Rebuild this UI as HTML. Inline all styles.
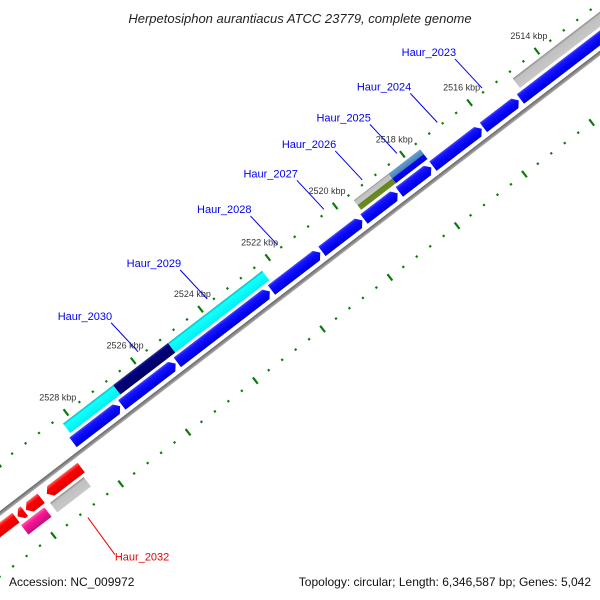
<!DOCTYPE html>
<html><head><meta charset="utf-8"><style>
html,body{margin:0;background:#fff;width:600px;height:600px;overflow:hidden}
svg{display:block;overflow:hidden;font-family:"Liberation Sans","DejaVu Sans",sans-serif}
</style></head><body>
<svg id="chart" width="600" height="600" viewBox="0 0 600 600" xmlns="http://www.w3.org/2000/svg">
<defs>
<linearGradient id="gBlue" x1="0" y1="0" x2="0" y2="1"><stop offset="0" stop-color="#0000c8"/><stop offset="0.25" stop-color="#0000f0"/><stop offset="0.8" stop-color="#1515ff"/><stop offset="1" stop-color="#4a4aff"/></linearGradient>
<linearGradient id="gCyan" x1="0" y1="0" x2="0" y2="1"><stop offset="0" stop-color="#00f0f0"/><stop offset="0.8" stop-color="#10ffff"/><stop offset="1" stop-color="#00b8b8"/></linearGradient>
<linearGradient id="gNavy" x1="0" y1="0" x2="0" y2="1"><stop offset="0" stop-color="#000060"/><stop offset="0.8" stop-color="#000080"/><stop offset="1" stop-color="#303090"/></linearGradient>
<linearGradient id="gGray" x1="0" y1="0" x2="0" y2="1"><stop offset="0" stop-color="#c8c8c8"/><stop offset="0.8" stop-color="#c0c0c0"/><stop offset="1" stop-color="#8a8a8a"/></linearGradient>
<linearGradient id="gRed" x1="0" y1="0" x2="0" y2="1"><stop offset="0" stop-color="#e00000"/><stop offset="0.7" stop-color="#ff0000"/><stop offset="1" stop-color="#ff6060"/></linearGradient>
<linearGradient id="gPink" x1="0" y1="0" x2="0" y2="1"><stop offset="0" stop-color="#c01080"/><stop offset="0.7" stop-color="#ff1493"/><stop offset="1" stop-color="#ff60b0"/></linearGradient>
<linearGradient id="gOlive" x1="0" y1="0" x2="0" y2="1"><stop offset="0" stop-color="#6b8e23"/><stop offset="1" stop-color="#5a7a18"/></linearGradient>
<linearGradient id="gSteel" x1="0" y1="0" x2="0" y2="1"><stop offset="0" stop-color="#4682b4"/><stop offset="1" stop-color="#6aa0d0"/></linearGradient>
<linearGradient id="gBack" x1="0" y1="0" x2="0" y2="1"><stop offset="0" stop-color="#b0b0b0"/><stop offset="0.5" stop-color="#888"/><stop offset="1" stop-color="#666"/></linearGradient>
</defs>
<text x="300" y="23" text-anchor="middle" font-size="13" font-style="italic" fill="#222">Herpetosiphon aurantiacus ATCC 23779, complete genome</text>
<g id="track" transform="translate(537,51) rotate(142.5)"></g>
<g id="labels"></g>
<text x="9" y="586" font-size="12" fill="#111">Accession: NC_009972</text>
<text x="591" y="586" text-anchor="end" font-size="12" fill="#111">Topology: circular; Length: 6,346,587 bp; Genes: 5,042</text>
</svg>
<script>
// data (kbp)
const refKbp = 2514;
const pxPerKbp = 42.4;
const blueStarts = [2505, 2515.05, 2516.15, 2517.65, 2518.65, 2519.7, 2520.95, 2522.45, 2525.25, 2526.9];
const blueEnds   = [2515.0, 2516.1, 2517.6, 2518.6, 2519.65, 2520.9, 2522.4, 2525.2, 2526.85, 2528.3];
const outerStarts = [2505, 2517.6, 2518.54, 2522.3, 2525.1, 2526.73];
const outerEnds   = [2514.85, 2518.54, 2519.57, 2525.1, 2526.73, 2528.22];
const outerColors = ["gGray", "gBlue", "gOlive", "gCyan", "gNavy", "gCyan"];
const redStarts = [2528.51, 2529.7, 2530.2, 2530.45];
const redEnds   = [2529.53, 2530.15, 2530.4, 2531.5];
const row4Starts = [2528.6, 2529.77];
const row4Ends   = [2529.6, 2530.46];
const row4Colors = ["gGray", "gPink"];
const tickKbp = [2500,2502,2504,2506,2508,2510,2512,2514,2516,2518,2520,2522,2524,2526,2528,2530,2532,2534];
const tickLabels = ["2514 kbp","2516 kbp","2518 kbp","2520 kbp","2522 kbp","2524 kbp","2526 kbp","2528 kbp"];
const tickLabelKbp = [2514,2516,2518,2520,2522,2524,2526,2528];
const geneNames = ["Haur_2023","Haur_2024","Haur_2025","Haur_2026","Haur_2027","Haur_2028","Haur_2029","Haur_2030","Haur_2032"];
const geneKbp = [2515.56,2516.89,2518.09,2519.12,2520.26,2521.64,2523.73,2525.78,2529.1];

const NS="http://www.w3.org/2000/svg";
const track=document.getElementById('track');
const labels=document.getElementById('labels');
const O=[537,51], D=[-0.7937,0.6085], N=[0.6085,0.7937];
function u(k){return (k-refKbp)*pxPerKbp;}
function scr(k,v){const a=u(k);return [O[0]+a*D[0]+v*N[0],O[1]+a*D[1]+v*N[1]];}
function mk(tag,attrs,parent){const e=document.createElementNS(NS,tag);for(const k in attrs)e.setAttribute(k,attrs[k]);parent.appendChild(e);return e;}
function feat(s,e,v0,v1,fill,arrow){
  const x1=u(s),x2=u(e),y0=-v1,y1=-v0,ym=(y0+y1)/2,h=5;
  let pts;
  if(arrow==='start') pts=[[x1,ym],[x1+h,y0],[x2,y0],[x2,y1],[x1+h,y1]];
  else if(arrow==='end') pts=[[x1,y0],[x2-h,y0],[x2,ym],[x2-h,y1],[x1,y1]];
  else pts=[[x1,y0],[x2,y0],[x2,y1],[x1,y1]];
  return mk('polygon',{points:pts.map(p=>p.join(',')).join(' '),fill:'url(#'+fill+')'},track);
}
// backbone
const bb=mk('rect',{x:u(2500),y:-42,width:u(2536)-u(2500),height:4,fill:'url(#gBack)'},track);


// tick rows
[0,90].forEach((v,ri)=>{
  for(let k=2500;k<=2535.01;k+=0.4){
    const major=tickKbp.some(t=>Math.abs(t-k)<0.01);
    const r=mk('rect',major?{x:u(k)-1,y:-v-4,width:2.2,height:8,fill:'#0a7a0a'}:{x:u(k)-1,y:-v-1,width:2.2,height:2.2,fill:'#0a7a0a'},track);
    
    
  }
});
for(let i=0;i<outerStarts.length;i++){
  const p=feat(outerStarts[i],outerEnds[i],7,19,outerColors[i],null);
  
  
}
// half-height overlays near 2518
const h1=feat(2517.6,2518.54,7,13,'gSteel',null);


const h2=feat(2518.54,2519.57,7,13,'gGray',null);


for(let i=0;i<blueStarts.length;i++){
  const p=feat(blueStarts[i],blueEnds[i],22,34,'gBlue','start');
  
  
}
for(let i=0;i<redStarts.length;i++){
  const p=feat(redStarts[i],redEnds[i],47,59,'gRed','end');
  
  
}
for(let i=0;i<row4Starts.length;i++){
  const p=feat(row4Starts[i],row4Ends[i],62,74,row4Colors[i],null);
  
  
}
// tick labels
for(let i=0;i<tickLabels.length;i++){
  const p=scr(tickLabelKbp[i],-10);
  const t=mk('text',{x:p[0]-2,y:p[1]-4,'font-size':9,fill:'#333','text-anchor':'middle'},labels);
  t.textContent=tickLabels[i];
  
  
}
// gene labels
for(let i=0;i<geneNames.length;i++){
  const inner=i===geneNames.length-1;
  const p=scr(geneKbp[i],inner?97:-4);
  const col=inner?'#ee0000':'#0000ee';
  const q=inner?[p[0]+27,p[1]+37]:[p[0]-27,p[1]-29];
  const l=mk('line',{x1:p[0],y1:p[1],x2:q[0],y2:q[1],stroke:col,'stroke-width':1},labels);
  
  
  const t=mk('text',inner?{x:q[0],y:q[1]+6,'font-size':11,fill:col}:{x:q[0]+1,y:q[1]-3,'font-size':11,fill:col,'text-anchor':'end'},labels);
  t.textContent=geneNames[i];
  
  
}
</script>
</body></html>
